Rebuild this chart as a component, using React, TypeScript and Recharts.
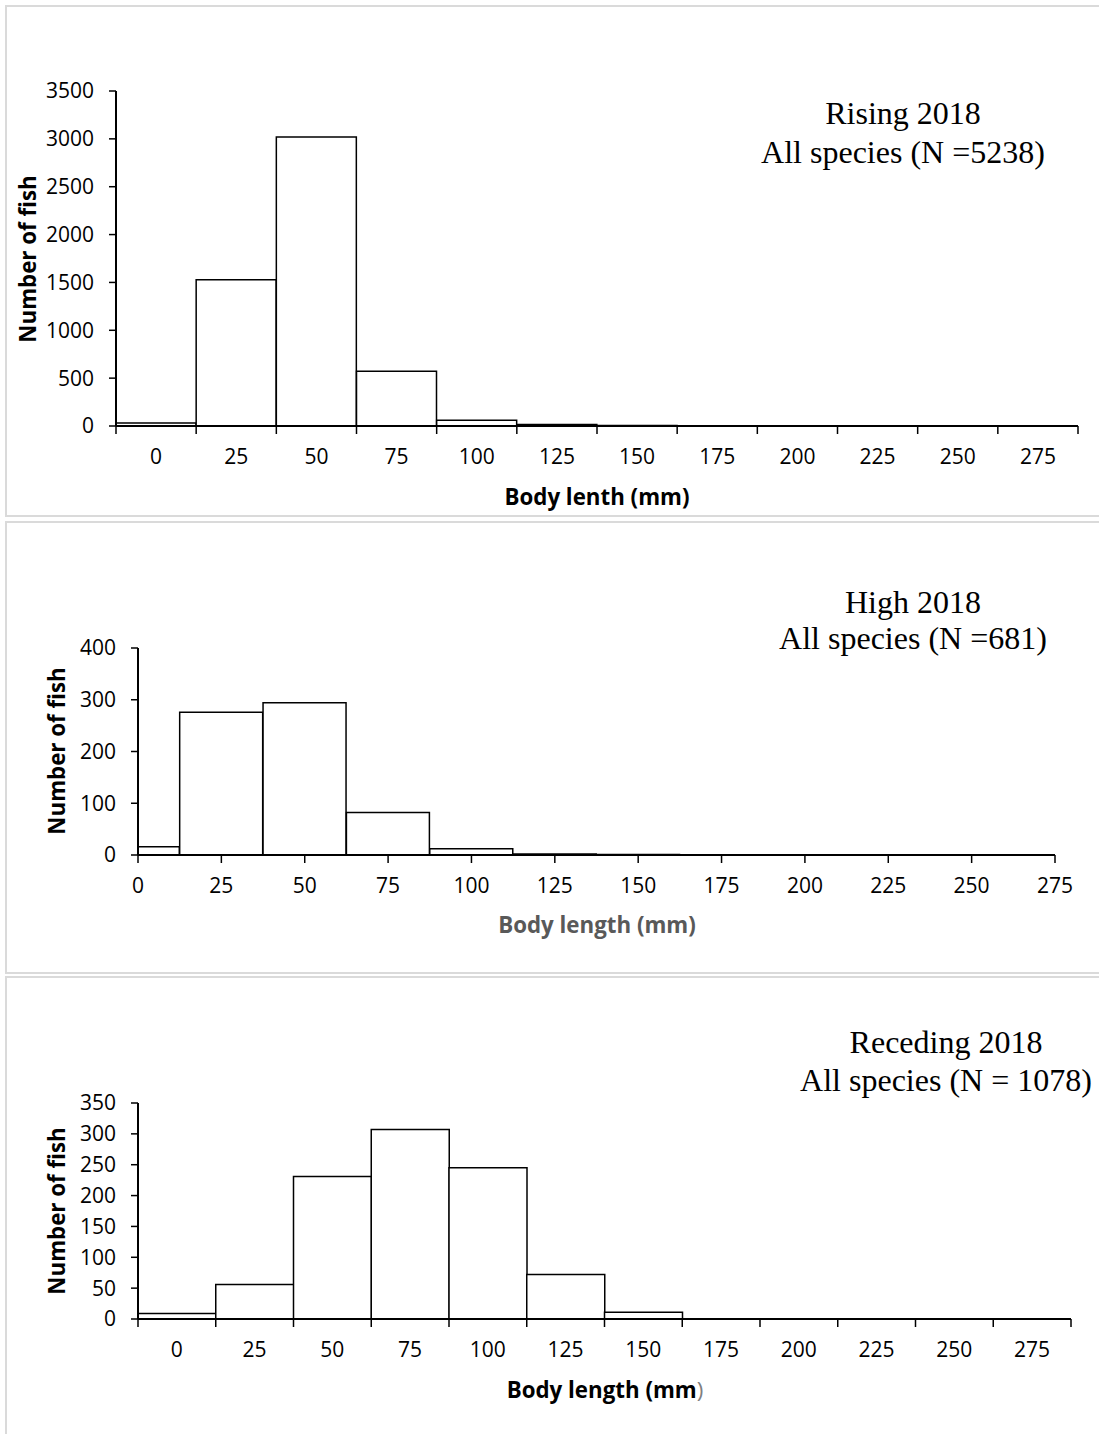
import React from "react";
import { BarChart, Bar, XAxis, YAxis } from "recharts";

// length classes (mm), each bin 25 mm wide
const binCenters = [0, 25, 50, 75, 100, 125, 150, 175, 200, 225, 250, 275];
const binEdges = [-12.5, 12.5, 37.5, 62.5, 87.5, 112.5, 137.5, 162.5, 187.5, 212.5, 237.5, 262.5, 287.5];

// fish counts per bin
const risingCounts = [31, 1529, 3019, 572, 60, 15, 5, 2, 1, 1, 1, 3];
const highCounts = [16, 276, 294, 82, 12, 2, 1, 0, 0, 0, 0, 0];
const recedingCounts = [9, 56, 231, 307, 245, 72, 11, 0, 0, 0, 0, 0];

const risingYTicks = [0, 500, 1000, 1500, 2000, 2500, 3000, 3500];
const highYTicks = [0, 100, 200, 300, 400];
const recedingYTicks = [0, 50, 100, 150, 200, 250, 300, 350];

const W = 1099;
const X_AXIS_H = 60;
const SANS = '"Open Sans", "Noto Sans", sans-serif';
const SERIF = '"Times New Roman", "Liberation Serif", serif';
const TICK_FONT = 21;

const toRows = (counts: number[]) =>
  binCenters.map((c, i) => ({ length: c, count: counts[i] }));

// ticks: in "binned" mode tick marks sit on the bin edges and labels on the centers
function makeTick(binned: boolean) {
  return (props: any) => {
    const { x, y, payload } = props;
    const v = Number(payload.value);
    const isEdge = v % 25 !== 0;
    const line = <line x1={x} x2={x} y1={y} y2={y + 8} stroke="#000" strokeWidth={1.5} />;
    const label = (
      <text x={x} y={y + 38} textAnchor="middle" fill="#000" fontSize={TICK_FONT} fontFamily={SANS}>
        {v}
      </text>
    );
    if (binned) return <g>{isEdge ? line : label}</g>;
    return (
      <g>
        {line}
        {label}
      </g>
    );
  };
}

interface PanelProps {
  chartTop: number;
  chartBottom: number;
  plotTop: number;
  plotBottom: number;
  plotLeft: number;
  plotRight: number;
  counts: number[];
  yTicks: number[];
  binned: boolean;
}

function Histogram(p: PanelProps) {
  const h = p.chartBottom - p.chartTop;
  const ticks = p.binned ? [...binEdges, ...binCenters].sort((a, b) => a - b) : binCenters;
  return (
    <div style={{ position: "absolute", left: 0, top: p.chartTop, width: W, height: h }}>
      <BarChart
        width={W}
        height={h}
        data={toRows(p.counts)}
        margin={{
          top: p.plotTop - p.chartTop,
          right: W - p.plotRight,
          bottom: p.chartBottom - p.plotBottom - X_AXIS_H,
          left: 0,
        }}
        barCategoryGap={0}
        barGap={0}
      >
        <XAxis
          dataKey="length"
          type="number"
          domain={p.binned ? [-12.5, 287.5] : [0, 275]}
          allowDataOverflow
          ticks={ticks}
          interval={0}
          height={X_AXIS_H}
          tickLine={false}
          tickSize={0}
          tickMargin={0}
          tick={makeTick(p.binned)}
          axisLine={{ stroke: "#000", strokeWidth: 2 }}
        />
        <YAxis
          type="number"
          domain={[0, p.yTicks[p.yTicks.length - 1]]}
          ticks={p.yTicks}
          interval={0}
          width={p.plotLeft}
          tickSize={7}
          tickMargin={15}
          tickLine={{ stroke: "#000", strokeWidth: 1.5 }}
          axisLine={{ stroke: "#000", strokeWidth: 2 }}
          tick={{ fill: "#000", fontSize: TICK_FONT, fontFamily: SANS }}
        />
        <Bar dataKey="count" fill="#fff" stroke="#000" strokeWidth={1.5} isAnimationActive={false} />
      </BarChart>
    </div>
  );
}

function Caption({ x, y, style, children, rotate }: any) {
  return (
    <div
      style={{
        position: "absolute",
        left: x,
        top: y,
        transform: `translate(-50%, -50%)${rotate ? " rotate(-90deg)" : ""}`,
        whiteSpace: "nowrap",
        lineHeight: 1,
        ...style,
      }}
    >
      {children}
    </div>
  );
}

const axisTitle = { fontFamily: SANS, fontWeight: 700, fontSize: 22.3, color: "#000" };
const cornerTitle = { fontFamily: SERIF, fontSize: 32, color: "#000" };

function Box({ top, bottom }: { top: number; bottom: number }) {
  return (
    <div
      style={{
        position: "absolute",
        left: 5,
        top,
        width: W + 20,
        height: bottom - top,
        border: "2px solid #dadada",
        boxSizing: "border-box",
      }}
    />
  );
}

export default function App() {
  return (
    <div
      style={{
        position: "absolute",
        left: 0,
        top: 0,
        width: W,
        height: 1434,
        overflow: "hidden",
        background: "#fff",
      }}
    >
      <Box top={5} bottom={517} />
      <Box top={521} bottom={974} />
      <Box top={976} bottom={1460} />

      <Histogram
        chartTop={6}
        chartBottom={516}
        plotTop={91}
        plotBottom={426}
        plotLeft={116}
        plotRight={1078}
        counts={risingCounts}
        yTicks={risingYTicks}
        binned
      />
      <Histogram
        chartTop={522}
        chartBottom={973}
        plotTop={648}
        plotBottom={855}
        plotLeft={138}
        plotRight={1055}
        counts={highCounts}
        yTicks={highYTicks}
        binned={false}
      />
      <Histogram
        chartTop={977}
        chartBottom={1434}
        plotTop={1103}
        plotBottom={1319}
        plotLeft={138}
        plotRight={1071}
        counts={recedingCounts}
        yTicks={recedingYTicks}
        binned
      />

      {/* panel 1 */}
      <Caption x={903} y={113} style={cornerTitle}>Rising 2018</Caption>
      <Caption x={903} y={152} style={cornerTitle}>All species (N =5238)</Caption>
      <Caption x={28} y={259} rotate style={axisTitle}>Number of fish</Caption>
      <Caption x={597} y={497} style={axisTitle}>Body lenth (mm)</Caption>

      {/* panel 2 */}
      <Caption x={913} y={602} style={cornerTitle}>High 2018</Caption>
      <Caption x={913} y={638} style={cornerTitle}>All species (N =681)</Caption>
      <Caption x={57} y={751} rotate style={axisTitle}>Number of fish</Caption>
      <Caption x={597} y={925} style={{ ...axisTitle, color: "#595959" }}>Body length (mm)</Caption>

      {/* panel 3 */}
      <Caption x={946} y={1042} style={cornerTitle}>Receding 2018</Caption>
      <Caption x={946} y={1080} style={cornerTitle}>All species (N = 1078)</Caption>
      <Caption x={57} y={1211} rotate style={axisTitle}>Number of fish</Caption>
      <Caption x={605} y={1390} style={axisTitle}>
        Body length (mm<span style={{ color: "#7f7f7f", fontWeight: 400 }}>)</span>
      </Caption>
    </div>
  );
}
